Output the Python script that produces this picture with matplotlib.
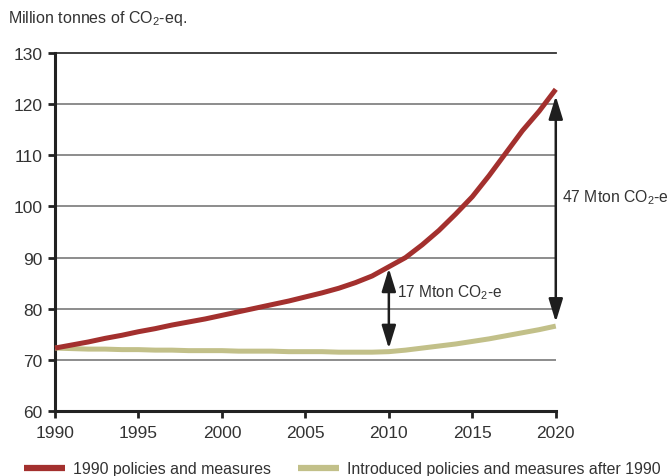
import matplotlib
matplotlib.use('Agg')
import matplotlib.pyplot as plt

years = list(range(1990, 2021))

# 1990 policies and measures (Mt CO2-eq)
base_1990 = [72.3, 72.9, 73.5, 74.2, 74.8, 75.5, 76.1, 76.8, 77.4, 78.0,
             78.7, 79.4, 80.1, 80.8, 81.5, 82.3, 83.1, 84.0, 85.1, 86.4,
             88.2, 90.0, 92.5, 95.3, 98.5, 101.9, 106.0, 110.4, 114.8, 118.6,
             122.9]

# introduced policies and measures after 1990
after_1990 = [72.3, 72.2, 72.1, 72.1, 72.0, 72.0, 71.9, 71.9, 71.8, 71.8,
              71.8, 71.7, 71.7, 71.7, 71.6, 71.6, 71.6, 71.5, 71.5, 71.5,
              71.6, 71.9, 72.3, 72.7, 73.1, 73.6, 74.1, 74.7, 75.3, 75.9,
              76.6]

gap_labels = ['17 Mton CO$_2$-e', '47 Mton CO$_2$-e']
gap_years = [2010, 2020]
gap_low = [72.2, 77.4]
gap_high = [87.9, 121.6]

fam = ['Liberation Sans Narrow', 'Liberation Sans', 'DejaVu Sans']
plt.rcParams['font.family'] = fam
plt.rcParams['mathtext.fontset'] = 'custom'
plt.rcParams['mathtext.rm'] = 'Liberation Sans'
plt.rcParams['mathtext.it'] = 'Liberation Sans'

txt = '#333333'
red = '#a3302e'
olive = '#c2c089'

fig = plt.figure(figsize=(6.68, 4.77), dpi=100)
ax = fig.add_axes([0.0823, 0.1363, 0.7497, 0.7505])

for v in [70, 80, 90, 100, 110, 120]:
    ax.axhline(v, color='#6e6e6e', lw=1.1, zorder=1)
ax.axhline(130, color='#333333', lw=1.3, zorder=1, clip_on=False)

ax.plot(years, after_1990, color=olive, lw=3.6, solid_capstyle='butt', zorder=3, clip_on=False)
ax.plot(years, base_1990, color=red, lw=3.6, solid_capstyle='butt', zorder=3, clip_on=False)

for yr, lo, hi in zip(gap_years, gap_low, gap_high):
    ax.annotate('', xy=(yr, hi), xytext=(yr, lo),
                arrowprops=dict(arrowstyle='<|-|>,head_length=1.4,head_width=0.43',
                                color='#1e1e1e', lw=1.8, shrinkA=0, shrinkB=0),
                zorder=4, annotation_clip=False)

ax.text(2010.5, 83.3, gap_labels[0], fontsize=11.2, color=txt, va='center', ha='left')
ax.text(2020.35, 101.9, gap_labels[1], fontsize=11.3, color=txt, va='center', ha='left',
        clip_on=False)

ax.set_xlim(1990, 2020)
ax.set_ylim(60, 130)
ax.set_xticks(range(1990, 2021, 5))
ax.set_yticks(range(60, 131, 10))
for s in ['top', 'right']:
    ax.spines[s].set_visible(False)
for s in ['left', 'bottom']:
    ax.spines[s].set_color('#222222')
    ax.spines[s].set_linewidth(2.2)
ax.tick_params(axis='both', colors='#222222', width=2, length=5, labelsize=12.5,
               labelcolor=txt)
ax.tick_params(axis='x', pad=5)
ax.tick_params(axis='y', pad=4)

fig.text(0.012, 0.962, 'Million tonnes of CO$_2$-eq.', fontsize=11.5, color=txt,
         va='center', ha='left')

fig.legend(handles=[plt.Line2D([], [], color=red, lw=4.5, solid_capstyle='butt'),
                    plt.Line2D([], [], color=olive, lw=4.5, solid_capstyle='butt')],
           labels=['1990 policies and measures', 'Introduced policies and measures after 1990'],
           loc='center left', bbox_to_anchor=(0.036, 0.0147), ncol=2, frameon=False,
           fontsize=11.45, labelcolor=txt, handlelength=2.6, handletextpad=0.5,
           columnspacing=1.65, borderaxespad=0, borderpad=0)

fig.savefig('out.png', dpi=100)
